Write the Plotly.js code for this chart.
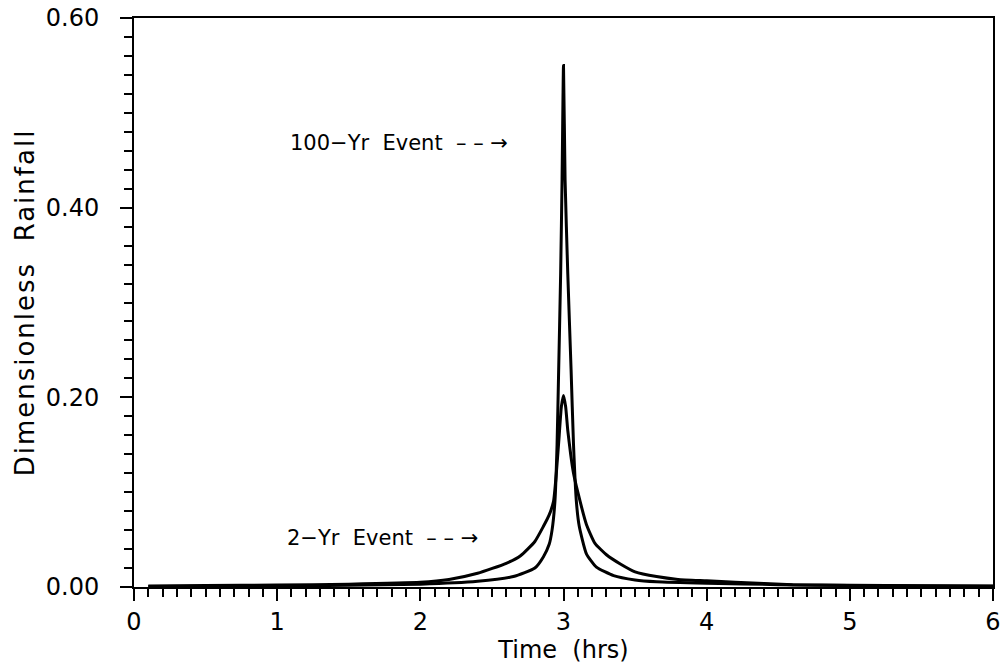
<!DOCTYPE html>
<html>
<head>
<meta charset="utf-8">
<script src="https://cdn.plot.ly/plotly-3.0.1.min.js"></script>
<style>
body { margin: 0; background: #fff; }
#chart { width: 1006px; height: 667px; }
.g-ytitle text { letter-spacing: 2px; }
</style>
</head>
<body>
<div id="chart"></div>
<script>
// Data
const time2yr = [0.1, 0.5, 1.0, 1.5, 2.0, 2.2, 2.4, 2.6, 2.7, 2.8, 2.86, 2.9, 2.93, 2.95, 2.97, 2.985, 3.0,
                 3.015, 3.03, 3.05, 3.07, 3.1, 3.16, 3.22, 3.3, 3.4, 3.5, 3.65, 3.8, 4.0, 4.2, 4.6, 5.0, 5.5, 6.0];
const rain2yr = [0.001, 0.0015, 0.002, 0.003, 0.005, 0.008, 0.0145, 0.025, 0.033, 0.048, 0.064, 0.076, 0.09, 0.12, 0.16, 0.19, 0.202,
                 0.19, 0.165, 0.14, 0.12, 0.10, 0.066, 0.046, 0.034, 0.024, 0.016, 0.011, 0.008, 0.0065, 0.005, 0.0025, 0.0018, 0.0012, 0.001];

const time100yr = [0.1, 1.0, 2.0, 2.4, 2.65, 2.8, 2.86, 2.9, 2.92, 2.94, 2.955, 2.965, 2.98, 2.99, 3.0,
                   3.011, 3.03, 3.053, 3.07, 3.09, 3.11, 3.16, 3.23, 3.35, 3.5, 3.65, 4.0, 4.5, 5.0, 6.0];
const rain100yr = [0.0005, 0.001, 0.003, 0.006, 0.011, 0.02, 0.032, 0.045, 0.06, 0.09, 0.15, 0.22, 0.33, 0.43, 0.55,
                   0.43, 0.33, 0.229, 0.15, 0.09, 0.064, 0.035, 0.021, 0.012, 0.0075, 0.0056, 0.004, 0.0025, 0.0015, 0.0008];

const xTickVals = [0, 1, 2, 3, 4, 5, 6];
const xTickText = ['0', '1', '2', '3', '4', '5', '6'];
const yTickVals = [0, 0.2, 0.4, 0.6];
const yTickText = ['0.00', '0.20', '0.40', '0.60'];

const labels = ['100\u2212Yr\u00a0 Event\u00a0 \u2013 \u2013 \u2192', '2\u2212Yr\u00a0 Event\u00a0 \u2013 \u2013 \u2192'];
const labelX = [1.075, 1.054];
const labelY = [0.468, 0.052];

const FONT = 'DejaVu Sans, sans-serif';

const traces = [
  { x: time2yr, y: rain2yr, type: 'scatter', mode: 'lines', name: '2-Yr Event',
    line: { color: '#000', width: 3, shape: 'spline', smoothing: 0.5 } },
  { x: time100yr, y: rain100yr, type: 'scatter', mode: 'lines', name: '100-Yr Event',
    line: { color: '#000', width: 3, shape: 'spline', smoothing: 0.5 } }
];

const layout = {
  width: 1006, height: 667,
  margin: { l: 134, r: 13, t: 18, b: 80 },
  paper_bgcolor: '#fff', plot_bgcolor: '#fff',
  showlegend: false,
  font: { family: FONT, color: '#000', size: 24 },
  xaxis: {
    range: [0, 6], tickvals: xTickVals, ticktext: xTickText,
    showgrid: false, zeroline: false,
    showline: true, linecolor: '#000', linewidth: 2, mirror: true,
    ticks: 'outside', ticklen: 12, tickwidth: 2, tickcolor: '#000',
    minor: { dtick: 0.1, ticks: 'outside', ticklen: 8, tickwidth: 2, tickcolor: '#000', showgrid: false },
    tickfont: { family: FONT, size: 24 },
    title: { text: 'Time\u00a0 (hrs)', font: { family: FONT, size: 24 }, standoff: 2 }
  },
  yaxis: {
    range: [0, 0.6], tickvals: yTickVals, ticktext: yTickText,
    showgrid: false, zeroline: false,
    showline: true, linecolor: '#000', linewidth: 2, mirror: true,
    ticks: 'outside', ticklen: 12, tickwidth: 2, tickcolor: '#000', ticklabelstandoff: 16,
    minor: { dtick: 0.02, ticks: 'outside', ticklen: 8, tickwidth: 2, tickcolor: '#000', showgrid: false },
    tickfont: { family: FONT, size: 24 },
    title: { text: 'Dimensionless\u00a0 Rainfall', font: { family: FONT, size: 26 }, standoff: 4 }
  },
  annotations: labels.map((t, i) => ({
    x: labelX[i], y: labelY[i], xref: 'x', yref: 'y',
    text: t, showarrow: false, xanchor: 'left', yanchor: 'middle',
    font: { family: FONT, size: 21, color: '#000' }
  }))
};

Plotly.newPlot('chart', traces, layout, { staticPlot: true, displayModeBar: false });
</script>
</body>
</html>
